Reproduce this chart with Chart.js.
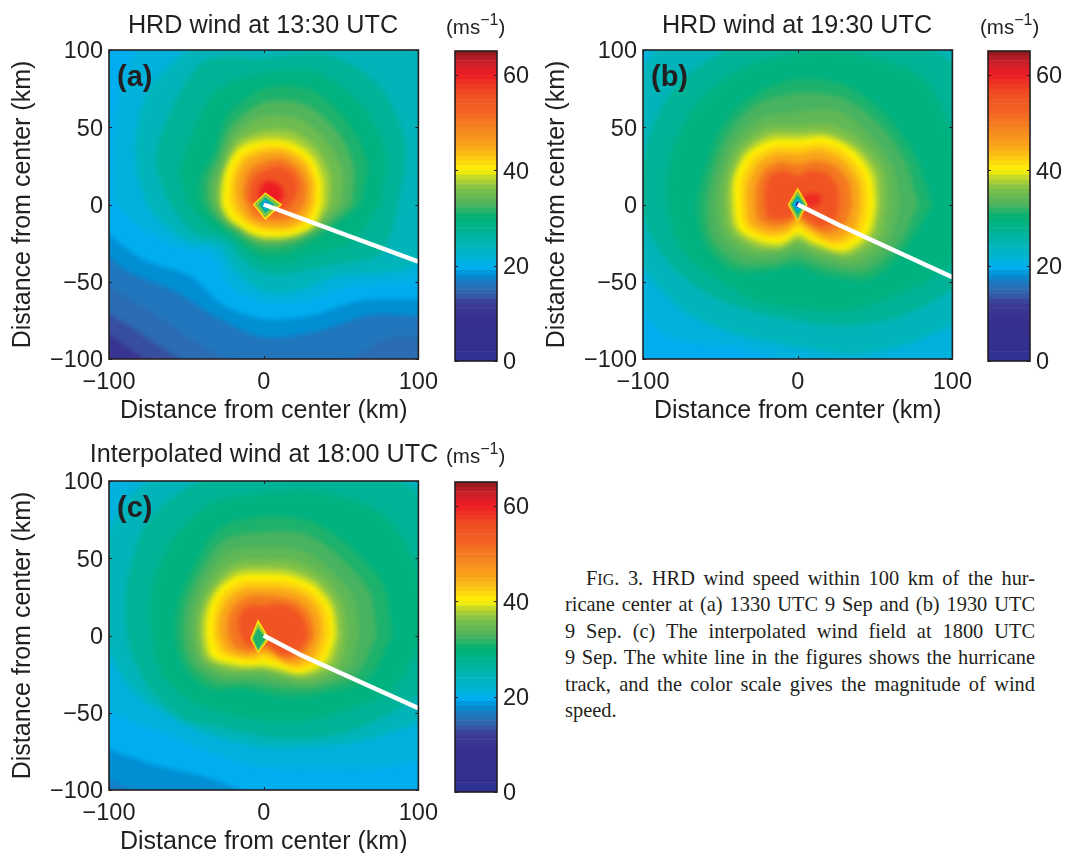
<!DOCTYPE html>
<html><head><meta charset="utf-8">
<script src="https://cdn.jsdelivr.net/npm/chart.js@4"></script>
<style>
html,body{margin:0;padding:0;background:#fff;width:1068px;height:853px;overflow:hidden}
canvas{position:absolute;display:block}
.t{position:absolute;font-family:"Liberation Sans",Arial,sans-serif;color:#231f20;white-space:nowrap}
.title{font-size:25.2px;line-height:26px;text-align:center}
.unit{font-size:20.5px;line-height:24px}
.unit sup{font-size:16px;line-height:0;vertical-align:9px}
.lab{font-size:29px;font-weight:bold;line-height:32px}
.cap{position:absolute;left:565px;width:470px;font-family:"Liberation Serif",serif;font-size:20.4px;line-height:26px;color:#231f20;text-align:justify;text-align-last:justify;white-space:nowrap}
.cap small{font-size:16px}
</style></head><body>
<div id="root"></div>
<div class="t title" style="left:110px;width:306px;top:11px">HRD wind at 13:30 UTC</div>
<div class="t title" style="left:644px;width:306px;top:11px">HRD wind at 19:30 UTC</div>
<div class="t title" style="left:64px;width:400px;top:440px">Interpolated wind at 18:00 UTC</div>
<div class="t unit" style="left:446px;top:15px">(ms<sup>−1</sup>)</div>
<div class="t unit" style="left:980px;top:15px">(ms<sup>−1</sup>)</div>
<div class="t unit" style="left:446px;top:444px">(ms<sup>−1</sup>)</div>
<div class="t lab" style="left:117px;top:60px;z-index:5">(a)</div>
<div class="t lab" style="left:651px;top:60px;z-index:5">(b)</div>
<div class="t lab" style="left:117px;top:491px;z-index:5">(c)</div>
<div class="cap" style="top:565px;padding-left:21px;width:449px">F<small>IG</small>. 3. HRD wind speed within 100 km of the hur-</div>
<div class="cap" style="top:591px">ricane center at (a) 1330 UTC 9 Sep and (b) 1930 UTC</div>
<div class="cap" style="top:618px">9 Sep. (c) The interpolated wind field at 1800 UTC</div>
<div class="cap" style="top:644px">9 Sep. The white line in the figures shows the hurricane</div>
<div class="cap" style="top:671px">track, and the color scale gives the magnitude of wind</div>
<div class="cap" style="top:697px;text-align-last:left">speed.</div>
<script>
// ---------- axis ticks ----------
const xTickStep = 100, yTickStep = 50, barTickStep = 20;
const axisTitle = 'Distance from center (km)';

// ---------- colour scale (value, colour) ----------
const scaleValues = [0,8,12,14,16,18,19.5,22,25.7,30,32.6,36,38.3,40,42.5,45,49,52,56,60,62.7,65];
const scaleColors = ['#2e3192','#362f8f','#3a3a94','#3561a8','#2176bd','#008fd3','#00aeef','#00b5d0','#00b4a5','#00b274','#4bb35f','#7dc04a','#bed62f','#fff200','#fcc913','#f9a51a','#f58220','#f26522','#f04e23','#ed1c24','#c8202a','#8b1a1e'];
const barLevels = [0,1,2,3,4,5,6,7,8,9,10,11,12,13,14,15,16,17,18,19,20,21,22,23,24,25,26,27,28,29,30,31,32,33,34,35,36,37,38,39,40,41,42,43,44,45,46,47,48,49,50,51,52,53,54,55,56,57,58,59,60,61,62,63,64];

// ---------- wind contours: radius (km) of each wind level at these bearings ----------
const bearings = [0,22.5,45,67.5,90,112.5,135,157.5,180,202.5,225,247.5,270,292.5,315,337.5];

// panel (a) HRD 13:30
const backgroundA = 10;
const levelsA = [13,15,16,18,19.5,21,24,27,29,31,33,35,37,38.5,40,42,45,50,55,60];
const a13 = [300,300,300,300,300,300,300,300,190,150,128,130,150,170,220,300];
const a15 = [300,300,300,300,300,300,300,300,160,135,116,115,125,145,175,300];
const a16 = [300,300,300,300,300,300,300,200,140,118,100,100,110,115,121,240];
const a18 = [300,300,300,300,300,300,250,150,125,102,80,79,86,89,101,190];
const a195 = [240,250,250,250,220,220,150,125,115,88,66,70,74,78,88,150];
const a21 = [160,180,200,180,160,140,125,105,95,66,47,57,63,68,76,118];
const a24 = [125,135,145,130,115,112,105,90,75,57,40,47,56,60,66,104];
const a27 = [87,99,107,105,95,100,85,75,60,48,34,38,44,48,56,82];
const a29 = [75,85,90,92,85,80,65,58,48,38,30,32,37,40,45,62];
const a31 = [63,72,76,80,75,62,46,44,40,32,28,29,32,34,37.5,45];
const a33 = [57,63,67,70,66,55,42,39,35,29,25,25,27,29,33,41];
const a35 = [50,55,58,60,57,49,38,34,31,27,23,23,24,26,31,38];
const a37 = [43,47,50,51,48,44,35,31,28,25,21,21,22,24,29,36];
const a385 = [40,43,46,46,44,41,34,29,27,24,20.5,20.3,21,23,28,35];
const a40 = [37,40,43,43,41,39,33,28,26,23,20,19.6,20,22,27,34];
const a42 = [34,37,40,40,38,35,29,24,22,19,17,16.5,17,19,24,31];
const a45 = [31,34,37,37,34,31,25,20,17,15,14,13.5,14,16,21,27];
const a50 = [26,30,32,32,28,24,18,14,11,10,10,10,10,11,15,21];
const a55 = [18,24,28,27,22,18,13,10,7,5,5,5,5,5,8,13];
const a60 = [9,14,16,16,14,8,3,2,2,2,2,2,2,2,3,4];
const radiiA = [a13,a15,a16,a18,a195,a21,a24,a27,a29,a31,a33,a35,a37,a385,a40,a42,a45,a50,a55,a60];

// panel (b) HRD 19:30
const backgroundB = 19.5;
const levelsB = [21,24,27,29,31,32.5,34,36,38,40,42,45,50,55,59];
const b21 = [260,260,260,260,250,230,210,170,140,125,120,100,102,120,150,200];
const b24 = [170,170,170,160,150,140,135,125,118,108,100,92,92,105,120,145];
const b27 = [140,140,135,120,115,110,110,105,102,92,82,75,75,85,100,120];
const b29 = [115,110,115,105,98,95,92,88,84,80,70,68,67,75,85,105];
const b31 = [87,82,81,83,81,76,70,64,65,65,60,46,40,50,67.5,75];
const b325 = [78,75,74,75,72,70,64,59,59,60,54,42,35,44,61,70];
const b34 = [66,66,65,66,60,61,58,54,53,53,47,36,30,38,55,63];
const b36 = [58,60,58,56,51,54,53,50,48,48,41,32,25,33,49,57];
const b38 = [53,55,53,50,46,49,49,46,44,44,37,30,22,29,45,52];
const b40 = [50,51,50,47,42,45,46,44,41,41,33.5,27,19,26,42,49];
const b42 = [46,47,46,43,38,41,42,40,37,37,30,23,15,22,38,45];
const b45 = [41,42,41,38,33,36,37,35,33,33,26,18,11,17,33,40];
const b50 = [35,36,35,31,26,30,31,29,27,27,20,12,7,12,26,33];
const b55 = [27,28,28,24,19,24,26,23,21,21,14,8,4,8,20,26];
const b59 = [14,16,10,4,3,3,3,3,3,3,3,3,3,3,3,6];
const radiiB = [b21,b24,b27,b29,b31,b325,b34,b36,b38,b40,b42,b45,b50,b55,b59];

// panel (c) interpolated 18:00
const backgroundC = 16.5;
const levelsC = [18,19.5,21,24,27,29,31,32.5,34,36,38,40,42,45,50,55];
const c18 = [300,300,300,300,300,300,300,300,300,170,135,125,150,200,250,300];
const c195 = [300,300,300,300,300,300,300,250,170,145,114,99,105,130,160,220];
const c21 = [220,220,220,220,220,200,190,160,135,115,90,83,85,93,119,160];
const c24 = [150,150,150,140,125,125,125,115,103,92,78,72,72,78,95,125];
const c27 = [125,130,135,118,105,108,105,95,88,82,75,65,65,72,85,105];
const c29 = [105,108,110,100,92,92,85,78,72,70,62,55,55,60,70,90];
const c31 = [83,84,80,80,77,75,63.5,59,57,55,49,37,37,43,53,73];
const c325 = [73,74,71,71,67,67,58,54,52,50,43,33,32,37,48,65];
const c34 = [62,63,61,60,57,59,53,49,47,45,37,29,27,32,44,58];
const c36 = [54,55,54,52,49,51,48,45,43,42,33,25,23,28,40,52];
const c38 = [49,50,49,46,44,46,44,42,40,39,29,23,21,25,37,47];
const c40 = [46,47,45.5,42,40,42,41.5,39,37,36,26,21,19,22.5,34,43];
const c42 = [43,44,42,38,36,38,38,35,33,31,22,18,15,18,31,40];
const c45 = [38,39,37,33,31,33,33,31,29,26,19,14,11,14,27,35];
const c50 = [33,33,31,27,26,27,27,25,23,20,15,10,8,10,22,29];
const c55 = [29,28,26,22,19,21,21,18,15,13,10,7,5,7,18,25];
const radiiC = [c18,c195,c21,c24,c27,c29,c31,c325,c34,c36,c38,c40,c42,c45,c50,c55];

// ---------- the calm eye: corner radii (km) at E, N, W, S ----------
const eyeBearings = [0,90,180,270];
const eyeLevelsA = [41,36,28,20,6];
const eyeRadiiA = [[11,8,8,10],[9.5,6.8,6.8,8.4],[6,4.6,4.2,5.6],[4,3.2,2.6,3.8],[2,2,1,2.2]];
const eyeCenterA = [1,0];
const eyeLevelsB = [42,36,28,20,6];
const eyeRadiiB = [[6.5,11,6.5,12],[5.4,8.5,5.4,10],[4,6,4,7.2],[3,4,3,4.6],[1.5,2.2,1.5,2.6]];
const eyeCenterB = [0,0];
const eyeLevelsC = [41,37,31];
const eyeRadiiC = [[7.5,12.5,5,9.6],[6.4,10,4.2,8.4],[5,7,3.2,7]];
const eyeCenterC = [-3.7,-2];

// ---------- hurricane tracks (km) ----------
const trackXA = [0,100], trackYA = [0,-37];
const trackXB = [0,26,100], trackYB = [0,-13,-47];
const trackXC = [0,24,100], trackYC = [0,-12.6,-47];

// ---------- helpers ----------
function hexRgb(h){return [1,3,5].map(i=>parseInt(h.substr(i,2),16));}
function colorOf(v){
  let i=0; while(i<scaleValues.length-2 && v>scaleValues[i+1]) i++;
  const t=Math.min(1,Math.max(0,(v-scaleValues[i])/(scaleValues[i+1]-scaleValues[i])));
  const a=hexRgb(scaleColors[i]),b=hexRgb(scaleColors[i+1]);
  return 'rgb('+a.map((c,k)=>Math.round(c+(b[k]-c)*t)).join(',')+')';
}
function ring(angles,radii,cx,cy){
  const pts=radii.map((r,i)=>{const a=angles[i]*Math.PI/180;return {x:cx+r*Math.cos(a),y:cy+r*Math.sin(a)};});
  pts.push(pts[0]); return pts;
}
const INK='#231f20', FONT='"Liberation Sans",Arial,sans-serif';
const minus=v=>String(v).replace('-','\u2212');
const BLUR='blur(2.5px)';

const framePlugin={id:'frame',afterDatasetsDraw(chart){
  const {ctx,chartArea:a,scales}=chart, f=chart.options.plugins.frame;
  ctx.save(); ctx.filter='none'; ctx.strokeStyle=INK; ctx.lineWidth=1;
  ctx.beginPath();
  if(f.xTicks) scales.x.ticks.forEach((t,i)=>{const p=Math.round(scales.x.getPixelForTick(i))+.5;
    ctx.moveTo(p,a.bottom);ctx.lineTo(p,a.bottom-3);ctx.moveTo(p,a.top);ctx.lineTo(p,a.top+3);});
  scales.y.ticks.forEach((t,i)=>{const p=Math.round(scales.y.getPixelForTick(i))+.5;
    ctx.moveTo(a.left,p);ctx.lineTo(a.left+3,p);ctx.moveTo(a.right,p);ctx.lineTo(a.right-3,p);});
  ctx.stroke();
  ctx.lineWidth=1.6; ctx.strokeRect(a.left,a.top,a.right-a.left,a.bottom-a.top);
  ctx.restore();
}};
const heatPlugin={id:'heat',
  beforeDatasetsDraw(chart){
    const {ctx,chartArea:a}=chart;
    ctx.fillStyle=colorOf(chart.options.plugins.heat.background);
    ctx.fillRect(a.left,a.top,a.right-a.left,a.bottom-a.top);
    ctx.filter=BLUR;
  },
  afterDatasetDraw(chart,args){
    if(chart.data.datasets[args.index].lastContour) chart.ctx.filter='none';
  },
  afterDatasetsDraw(chart){chart.ctx.filter='none';}
};

function makeCanvas(l,t,w,h){
  const c=document.createElement('canvas');
  c.width=w;c.height=h;c.style.left=l+'px';c.style.top=t+'px';c.style.width=w+'px';c.style.height=h+'px';
  document.getElementById('root').appendChild(c);return c;
}
function heatPanel(left,top,levels,radii,bg,eyeLv,eyeR,eyeC,tx,ty){
  const c=makeCanvas(left-109,top-50,447,426);
  const ds=[]; let ord=1000;
  levels.forEach((lv,i)=>ds.push({data:ring(bearings,radii[i],0,0),showLine:true,fill:'shape',backgroundColor:colorOf(lv),
    borderWidth:0,pointRadius:0,tension:0.3,capBezierPoints:false,order:ord--,lastContour:i===levels.length-1}));
  eyeLv.forEach((lv,i)=>ds.push({data:ring(eyeBearings,eyeR[i],eyeC[0],eyeC[1]),showLine:true,fill:'shape',backgroundColor:colorOf(lv),
    borderWidth:0,pointRadius:0,tension:0,order:ord--}));
  ds.push({data:tx.map((x,i)=>({x,y:ty[i]})),showLine:true,fill:false,borderColor:'#fff',borderWidth:4.5,pointRadius:0,tension:0,order:ord--,borderCapStyle:'butt'});
  new Chart(c,{type:'scatter',data:{datasets:ds},plugins:[heatPlugin,framePlugin],options:{
    responsive:false,animation:false,events:[],
    layout:{padding:{left:0,right:22,top:50,bottom:0}},
    plugins:{legend:{display:false},tooltip:{enabled:false},frame:{xTicks:true},heat:{background:bg}},
    scales:{
      x:{type:'linear',min:-100,max:100,grid:{display:false,drawTicks:false},border:{display:false},
        afterFit(s){s.height=67;},
        ticks:{stepSize:xTickStep,padding:9,maxRotation:0,autoSkip:false,color:INK,font:{family:FONT,size:23.5},callback:minus},
        title:{display:true,text:axisTitle,color:INK,font:{family:FONT,size:25},padding:0}},
      y:{type:'linear',min:-100,max:100,grid:{display:false,drawTicks:false},border:{display:false},
        afterFit(s){s.width=109;},
        ticks:{stepSize:yTickStep,padding:6,labelOffset:2,autoSkip:false,color:INK,font:{family:FONT,size:23.5},callback:minus},
        title:{display:true,text:axisTitle,color:INK,font:{family:FONT,size:25},padding:{top:8,bottom:0}}}
    }}});
}
function colorBar(left,top){
  const c=makeCanvas(left-15,top-50,90,390);
  new Chart(c,{type:'bar',data:{labels:[''],datasets:barLevels.map(v=>({data:[[v,v+1]],backgroundColor:colorOf(v+0.5),borderWidth:0,barPercentage:1,categoryPercentage:1,grouped:false}))},
   plugins:[framePlugin],options:{responsive:false,animation:false,events:[],
    layout:{padding:{left:15,right:0,top:50,bottom:30}},
    plugins:{legend:{display:false},tooltip:{enabled:false},frame:{xTicks:false}},
    scales:{
      x:{display:false},
      y:{position:'right',min:0,max:65,grid:{display:false,drawTicks:false},border:{display:false},afterFit(s){s.width=33;},
        ticks:{stepSize:barTickStep,includeBounds:false,padding:6,labelOffset:2,color:INK,font:{family:FONT,size:23.5}}}
    }}});
}
heatPanel(109,50,levelsA,radiiA,backgroundA,eyeLevelsA,eyeRadiiA,eyeCenterA,trackXA,trackYA);
heatPanel(643,50,levelsB,radiiB,backgroundB,eyeLevelsB,eyeRadiiB,eyeCenterB,trackXB,trackYB);
heatPanel(109,481,levelsC,radiiC,backgroundC,eyeLevelsC,eyeRadiiC,eyeCenterC,trackXC,trackYC);
colorBar(455,51);colorBar(988,51);colorBar(455,482);
</script>
</body></html>
